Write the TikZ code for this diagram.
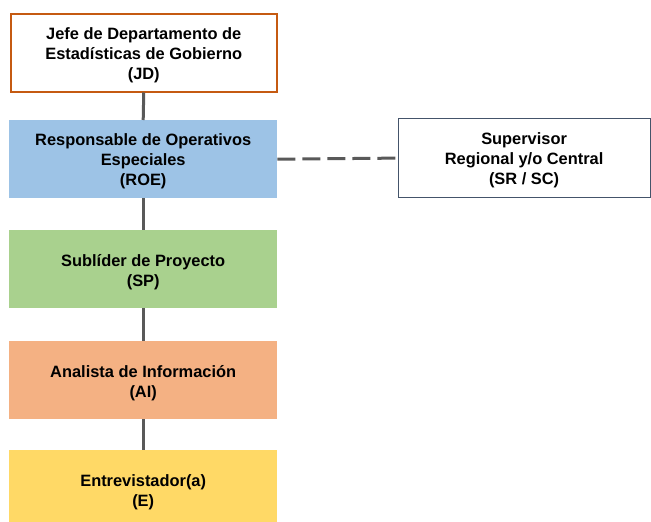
\documentclass[tikz,border=0pt]{standalone}
\usepackage{fontspec}
\setmainfont{Liberation Sans}
\begin{document}
\begin{tikzpicture}[x=1pt,y=-1pt,
  box/.style={rectangle, minimum width=268pt, minimum height=78pt, inner sep=0pt, anchor=north west},
  txt/.style={inner sep=0pt, align=center, font=\bfseries\fontsize{16.4}{20}\selectfont},
  link/.style={draw=linegray, line width=3pt},
]
\definecolor{linegray}{HTML}{595959}
\definecolor{jdborder}{HTML}{C55A11}
\definecolor{roefill}{HTML}{9DC3E6}
\definecolor{spfill}{HTML}{A9D18E}
\definecolor{aifill}{HTML}{F4B183}
\definecolor{efill}{HTML}{FFD966}
\definecolor{srborder}{HTML}{44546A}
\useasboundingbox (0,0) rectangle (651,522);
\node[box, draw=jdborder, line width=1.5pt, fill=white, minimum width=266pt, minimum height=78pt] (jd) at (10,13) {};
\node[box, fill=roefill] (roe) at (9,120) {};
\node[box, fill=spfill] (sp) at (9,230) {};
\node[box, fill=aifill] (ai) at (9,341) {};
\node[box, fill=efill, minimum height=80pt] (e) at (9,450) {};
\node[box, draw=srborder, line width=1.2pt, fill=white, minimum width=252pt, minimum height=79pt] (sr) at (397.5,118) {};
\node[txt] (jdt) at ([yshift=-3pt]jd.center) {Jefe de Departamento de\\Estadísticas de Gobierno\\(JD)};
\node[txt] (roet) at ([yshift=-2pt]roe.center) {Responsable de Operativos\\Especiales\\(ROE)};
\node[txt] (spt) at ([yshift=-3pt]sp.center) {Sublíder de Proyecto\\(SP)};
\node[txt] (ait) at ([yshift=-3pt]ai.center) {Analista de Información\\(AI)};
\node[txt] (et) at ([yshift=-2pt]e.center) {Entrevistador(a)\\(E)};
\node[txt] (srt) at ([yshift=-2pt]sr.center) {Supervisor\\Regional y/o Central\\(SR / SC)};
\draw[link] (jd.south) -- (roe.north);
\draw[link] (roe.south) -- (sp.north);
\draw[link] (sp.south) -- (ai.north);
\draw[link] (ai.south) -- (e.north);
\draw[link, dash pattern=on 18pt off 7pt] (roe.east) -- (sr.west);
\end{tikzpicture}
\end{document}
